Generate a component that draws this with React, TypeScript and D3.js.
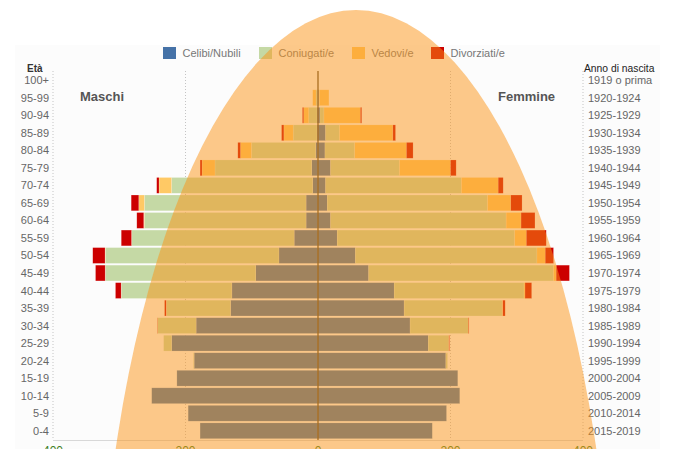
import React, { useEffect, useRef } from 'react';
import * as d3 from 'd3';

// età (dall'alto verso il basso) e anno di nascita corrispondente
const ages = ["100+", "95-99", "90-94", "85-89", "80-84", "75-79", "70-74", "65-69", "60-64", "55-59", "50-54",
  "45-49", "40-44", "35-39", "30-34", "25-29", "20-24", "15-19", "10-14", "5-9", "0-4"];
const birthYears = ["1919 o prima", "1920-1924", "1925-1929", "1930-1934", "1935-1939", "1940-1944", "1945-1949",
  "1950-1954", "1955-1959", "1960-1964", "1965-1969", "1970-1974", "1975-1979", "1980-1984", "1985-1989",
  "1990-1994", "1995-1999", "2000-2004", "2005-2009", "2010-2014", "2015-2019"];

// Maschi
const maleCelibi = [0, 0.5, 1.5, 1.5, 3.5, 9.5, 8, 18, 18, 36, 59, 94, 130, 132, 184, 221, 187, 213, 251, 196, 178];
const maleConiugati = [0, 2.5, 12.5, 36, 97, 146, 213, 244, 244, 245, 262, 227, 167, 97, 58, 12, 1, 0, 0, 0, 0];
const maleVedovi = [0, 5, 7.5, 14, 16.5, 19.5, 19, 8.5, 1, 0.5, 0.5, 0.3, 0.2, 0.1, 0, 0, 0, 0, 0, 0, 0];
const maleDivorziati = [0, 0, 2, 3.5, 4, 3, 3.5, 11.5, 10.5, 15.5, 18.5, 14.5, 8.5, 2.5, 0.5, 0, 0, 0, 0, 0, 0];

// Femmine
const femaleNubili = [0, 1, 3, 11.5, 10.5, 19, 11.5, 14, 19, 29, 56.5, 76.5, 115, 130, 139, 166.5, 193, 211, 214, 194, 172.5];
const femaleConiugate = [0, 1, 6, 21, 45, 104, 205, 242, 265, 268, 274, 279, 196, 148, 88, 31, 2.5, 0, 0, 0, 0];
const femaleVedove = [0, 14.5, 55, 80.5, 78, 77, 55.5, 35, 22.5, 17.5, 12.5, 4, 1.5, 1, 0, 0, 0, 0, 0, 0, 0];
const femaleDivorziate = [0, 0, 2, 4, 10, 8.5, 7.5, 17, 21, 30, 12.5, 20, 10, 3.5, 1, 1, 0, 0, 0, 0, 0];

const statusLabels = ["Celibi/Nubili", "Coniugati/e", "Vedovi/e", "Divorziati/e"];
const xTicks = [-400, -200, 0, 200, 400];

const keys = ["celibi", "coniugati", "vedovi", "divorziati"];
const colors = ["#4572a7", "#c5d9a5", "#ffc965", "#cc0000"];
const legendX = [163, 259, 352, 431];

export default function App() {
  const svgRef = useRef<SVGSVGElement | null>(null);

  useEffect(() => {
    const svg = d3.select(svgRef.current);
    svg.selectAll("*").remove();

    const x = d3.scaleLinear().domain([-400, 400]).range([53, 583]);
    const y = d3.scaleBand<string>().domain(ages).range([71, 440]).paddingInner(0.1).paddingOuter(0.075);
    const color = d3.scaleOrdinal<string, string>().domain(keys).range(colors);

    svg.append("rect").attr("x", 15).attr("y", 45).attr("width", 645).attr("height", 404).attr("fill", "#fcfcfc");

    // griglia
    const grid = svg.append("g");
    grid.selectAll("line")
      .data(xTicks.filter(d => d !== 0))
      .enter()
      .append("line")
      .attr("x1", d => x(d)).attr("x2", d => x(d))
      .attr("y1", 71).attr("y2", 440)
      .attr("stroke", "#c4c4c4")
      .attr("stroke-width", 1)
      .attr("stroke-dasharray", "1,2");
    svg.append("line")
      .attr("x1", x(-400)).attr("x2", x(400)).attr("y1", 440.5).attr("y2", 440.5)
      .attr("stroke", "#d8d8d8");

    const maleRows = ages.map((a, i) => ({
      age: a, celibi: maleCelibi[i], coniugati: maleConiugati[i], vedovi: maleVedovi[i], divorziati: maleDivorziati[i],
    }));
    const femaleRows = ages.map((a, i) => ({
      age: a, celibi: femaleNubili[i], coniugati: femaleConiugate[i], vedovi: femaleVedove[i], divorziati: femaleDivorziate[i],
    }));
    const stack = d3.stack<any>().keys(keys);

    const drawSide = (rows: any[], sign: number) => {
      const series = stack(rows);
      const g = svg.append("g");
      series.forEach(s => {
        g.selectAll(null)
          .data(s.filter(d => d[1] - d[0] > 0))
          .enter()
          .append("rect")
          .attr("x", d => Math.min(x(sign * d[0]), x(sign * d[1])))
          .attr("width", d => Math.abs(x(sign * d[1]) - x(sign * d[0])))
          .attr("y", d => y(d.data.age) as number)
          .attr("height", y.bandwidth())
          .attr("fill", color(s.key))
          .attr("stroke", "#ffffff")
          .attr("stroke-opacity", 0.35)
          .attr("stroke-width", 0.5);
      });
    };
    drawSide(maleRows, -1);
    drawSide(femaleRows, 1);

    // asse centrale
    svg.append("line")
      .attr("x1", x(0)).attr("x2", x(0)).attr("y1", 71).attr("y2", 440)
      .attr("stroke", "#4a3a1a").attr("stroke-width", 1.2);

    const font = "'Liberation Sans', Arial, Helvetica, sans-serif";

    // etichette età
    svg.append("g").selectAll("text")
      .data(ages)
      .enter()
      .append("text")
      .attr("x", 49)
      .attr("y", d => (y(d) as number) + y.bandwidth() / 2)
      .attr("dy", "0.36em")
      .attr("text-anchor", "end")
      .attr("font-family", font)
      .attr("font-size", 11)
      .attr("fill", "#666")
      .text(d => d);

    // anno di nascita
    svg.append("g").selectAll("text")
      .data(birthYears)
      .enter()
      .append("text")
      .attr("x", 588)
      .attr("y", (d, i) => (y(ages[i]) as number) + y.bandwidth() / 2)
      .attr("dy", "0.36em")
      .attr("font-family", font)
      .attr("font-size", 11)
      .attr("fill", "#666")
      .text(d => d);

    svg.append("text").attr("x", 27).attr("y", 72).attr("font-family", font).attr("font-size", 10)
      .attr("font-weight", "bold").attr("fill", "#333").text("Età");
    svg.append("text").attr("x", 584).attr("y", 72).attr("font-family", font).attr("font-size", 10.3)
      .attr("fill", "#222").text("Anno di nascita");
    svg.append("text").attr("x", 80).attr("y", 101).attr("font-family", font).attr("font-size", 13)
      .attr("font-weight", "bold").attr("fill", "#555").text("Maschi");
    svg.append("text").attr("x", 498).attr("y", 101).attr("font-family", font).attr("font-size", 13)
      .attr("font-weight", "bold").attr("fill", "#555").text("Femmine");

    // legenda
    const legend = svg.append("g").selectAll("g")
      .data(statusLabels)
      .enter()
      .append("g")
      .attr("transform", (d, i) => `translate(${legendX[i]},47)`);
    legend.append("rect").attr("width", 13).attr("height", 12).attr("fill", (d, i) => colors[i]);
    legend.append("text").attr("x", 19.5).attr("y", 10).attr("font-family", font).attr("font-size", 11)
      .attr("fill", "#777").text(d => d);

    // tick asse x
    svg.append("g").selectAll("text")
      .data(xTicks)
      .enter()
      .append("text")
      .attr("x", d => x(d))
      .attr("y", 455)
      .attr("text-anchor", "middle")
      .attr("font-family", font)
      .attr("font-size", 12)
      .attr("fill", "#3f7f1f")
      .text(d => Math.abs(d));

    // forma sovrapposta
    svg.append("ellipse")
      .attr("cx", 356).attr("cy", 700).attr("rx", 258).attr("ry", 690)
      .attr("fill", "#fb9315")
      .attr("fill-opacity", 0.5);
  }, []);

  return (
    <svg ref={svgRef} width={679} height={449} viewBox="0 0 679 449"
      style={{ position: "absolute", left: 0, top: 0, background: "#fff" }} />
  );
}
